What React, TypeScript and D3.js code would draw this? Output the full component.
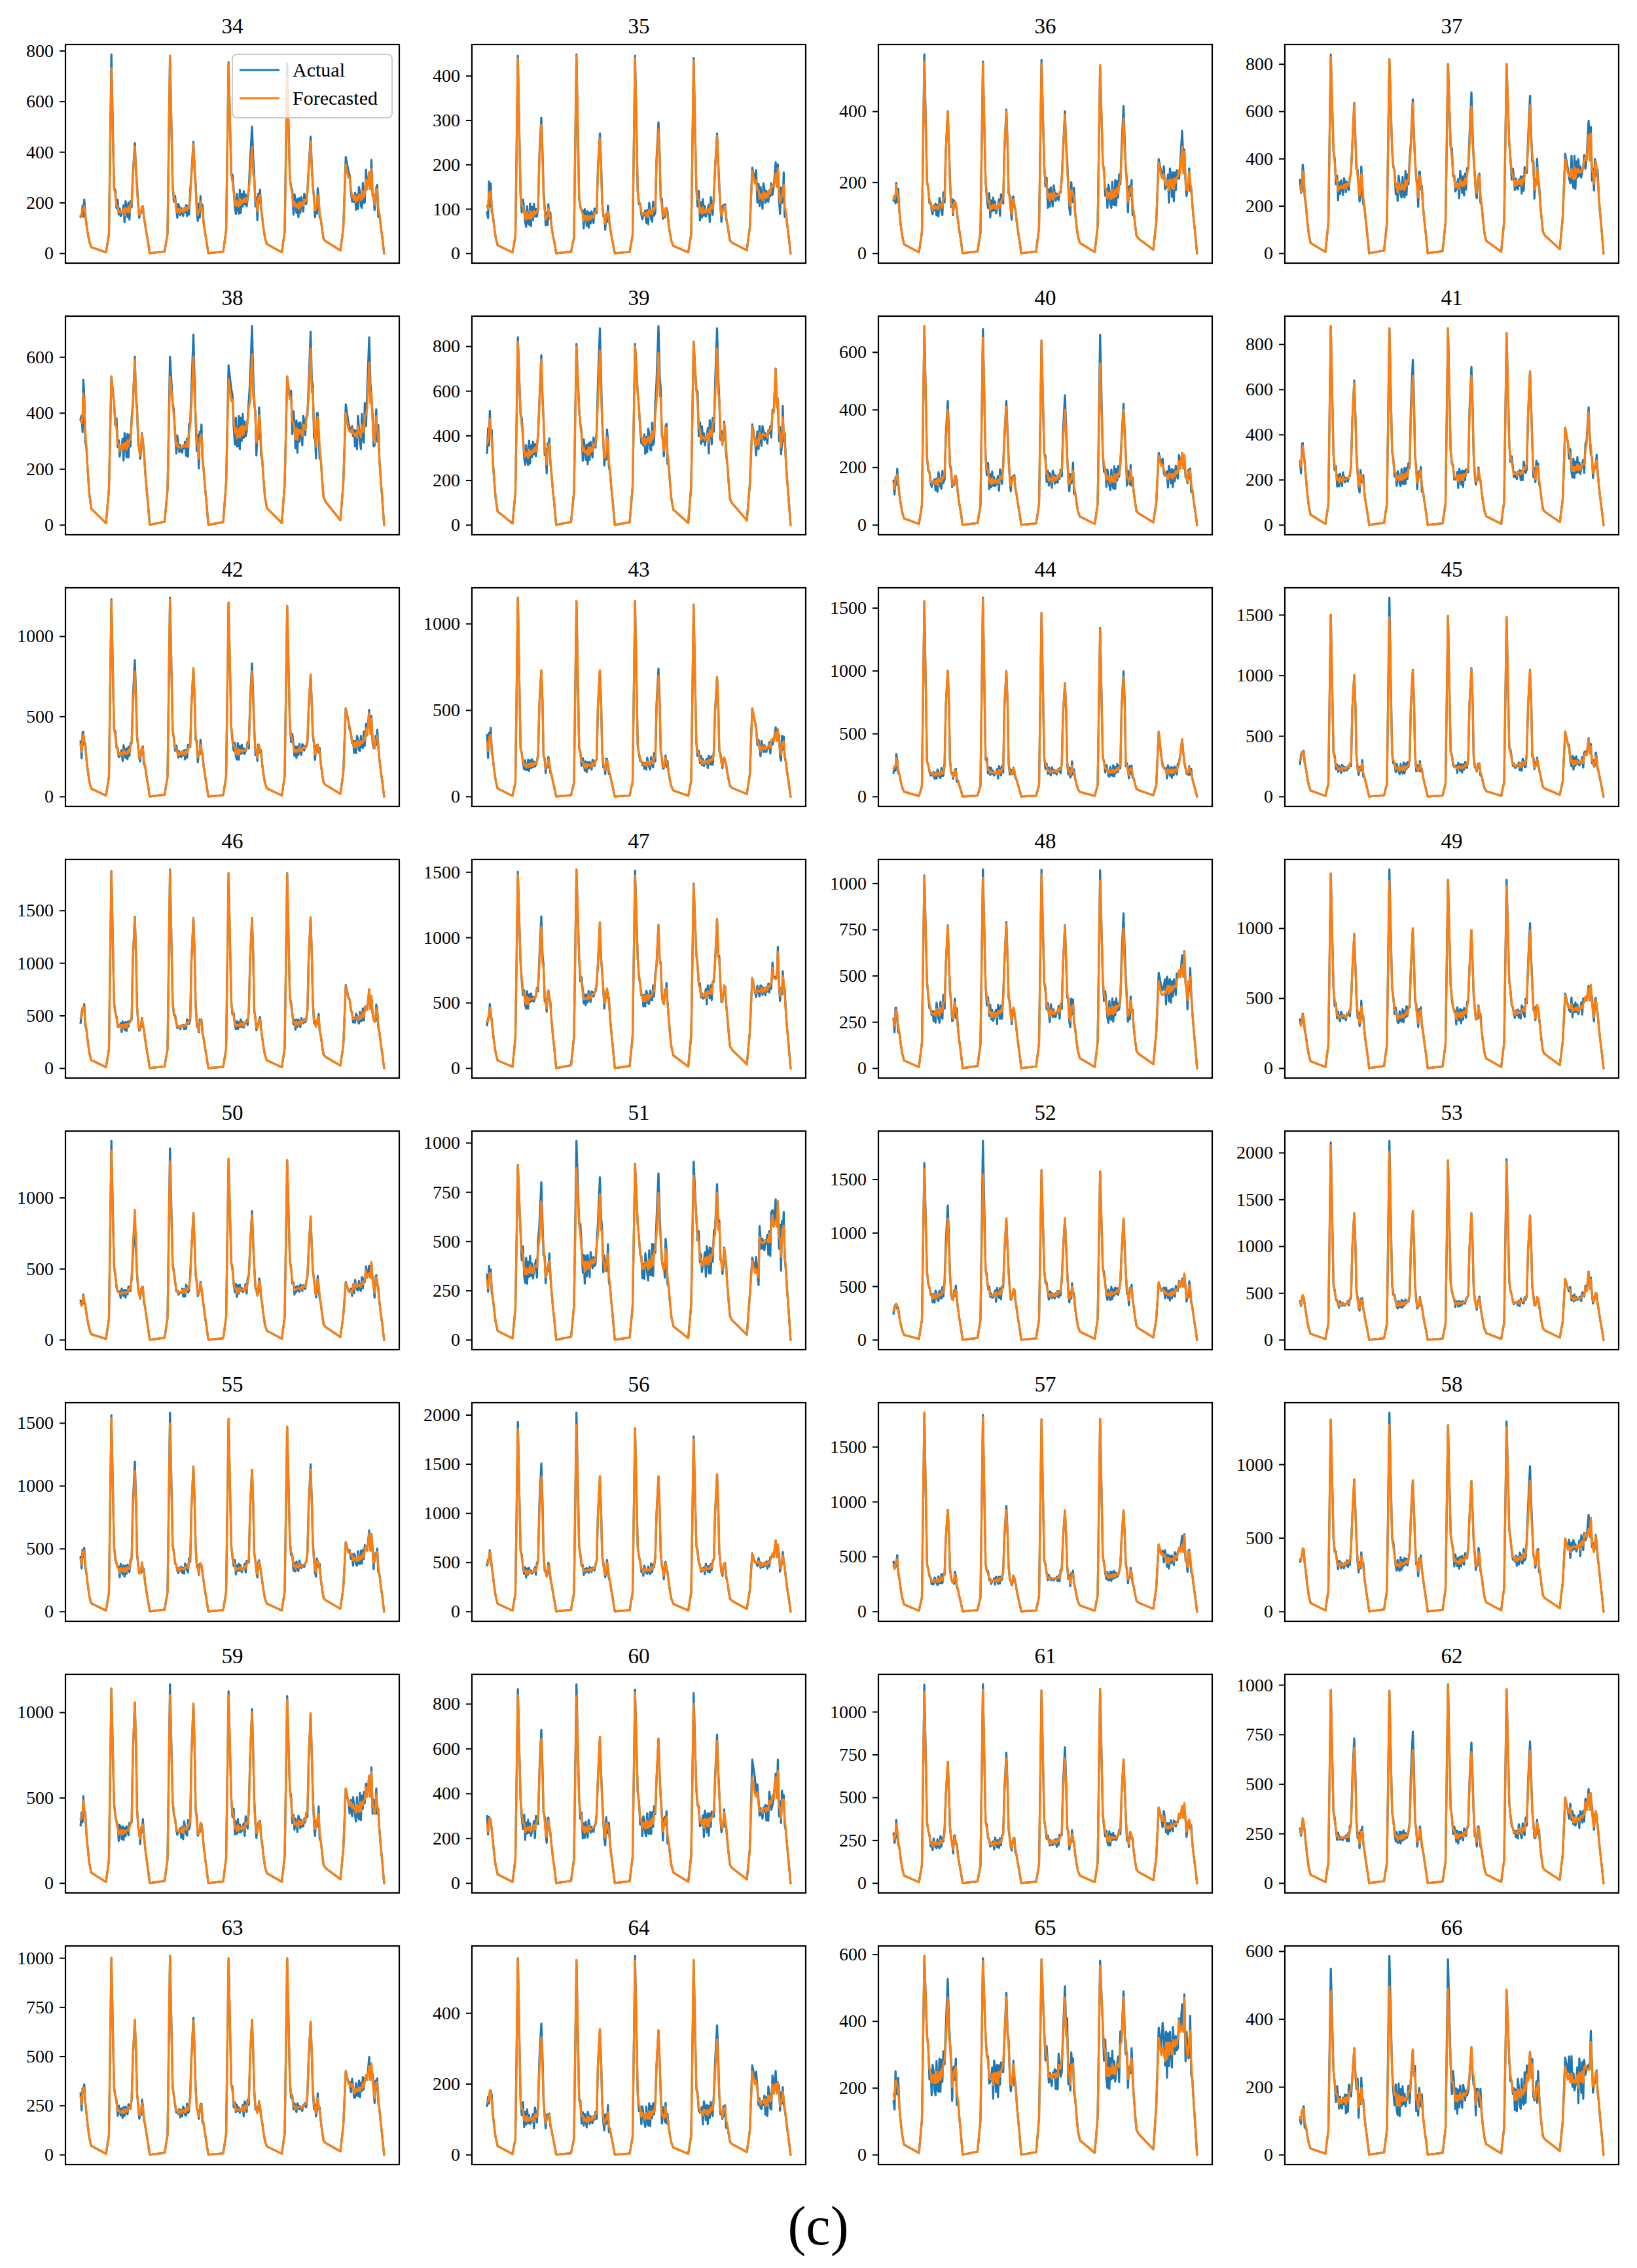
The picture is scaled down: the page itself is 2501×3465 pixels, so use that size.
import { useEffect, useRef } from 'react';
import * as d3 from 'd3';

// panels, in reading order
const PANEL_IDS = [34, 35, 36, 37, 38, 39, 40, 41, 42, 43, 44, 45, 46, 47, 48, 49,
  50, 51, 52, 53, 55, 56, 57, 58, 59, 60, 61, 62, 63, 64, 65, 66];
const TICK_STEP = [200, 100, 200, 200, 200, 200, 200, 200, 500, 500, 500, 500, 500, 500, 250, 500,
  500, 250, 500, 500, 500, 500, 500, 500, 500, 200, 250, 250, 250, 200, 200, 200];

// morning peaks per day (actual / forecasted)
const P1_ACTUAL = [
  [785, 780, 755, 750, 380], [445, 448, 445, 440, 193], [560, 540, 545, 525, 265], [840, 820, 800, 800, 420],
  [530, 600, 570, 530, 430], [840, 810, 810, 820, 450], [690, 680, 640, 660, 250], [880, 870, 870, 850, 430],
  [1230, 1240, 1210, 1190, 550], [1150, 1130, 1130, 1110, 510], [1550, 1580, 1460, 1340, 515], [1500, 1640, 1490, 1480, 535],
  [1875, 1890, 1855, 1855, 791], [1500, 1520, 1510, 1410, 690], [1043, 1075, 1073, 1070, 515], [1390, 1420, 1346, 1346, 532],
  [1398, 1345, 1274, 1262, 406], [888, 1009, 893, 904, 417], [1653, 1857, 1586, 1572, 536], [2108, 2124, 1917, 1931, 650],
  [1562, 1582, 1534, 1471, 551], [1928, 2022, 1865, 1779, 590], [1810, 1790, 1750, 1754, 609], [1304, 1351, 1266, 1290, 496],
  [1139, 1164, 1123, 1094, 553], [865, 887, 863, 848, 551], [1157, 1160, 1123, 1133, 441], [974, 970, 1003, 978, 432],
  [1000, 1010, 998, 998, 425], [554, 549, 561, 549, 252], [595, 588, 585, 581, 380], [548, 586, 576, 486, 286],
];
const P1_FORECAST = [
  [730, 780, 750, 700, 350], [440, 445, 440, 435, 185], [540, 535, 535, 530, 255], [830, 820, 800, 800, 400],
  [530, 530, 520, 530, 400], [820, 800, 800, 820, 440], [690, 650, 640, 560, 240], [880, 870, 870, 850, 430],
  [1220, 1230, 1210, 1190, 550], [1150, 1130, 1130, 1110, 510], [1550, 1570, 1460, 1330, 515], [1500, 1480, 1490, 1480, 535],
  [1870, 1885, 1850, 1850, 780], [1480, 1520, 1470, 1400, 690], [1040, 1030, 1050, 1015, 470], [1390, 1338, 1346, 1300, 520],
  [1330, 1255, 1274, 1262, 400], [888, 872, 893, 833, 400], [1596, 1546, 1586, 1572, 536], [2080, 2009, 1917, 1900, 650],
  [1540, 1497, 1534, 1471, 551], [1854, 1899, 1865, 1752, 590], [1810, 1770, 1750, 1754, 609], [1304, 1270, 1266, 1249, 496],
  [1139, 1101, 1100, 1075, 553], [839, 834, 848, 800, 471], [1114, 1130, 1123, 1133, 441], [974, 970, 1003, 978, 432],
  [1000, 1010, 998, 998, 425], [554, 549, 548, 549, 234], [595, 580, 585, 566, 350], [483, 497, 490, 486, 260],
];
// afternoon peaks per day
const P2_ACTUAL = [
  [435, 440, 500, 460, 320], [305, 270, 295, 270, 205], [400, 405, 400, 415, 345], [635, 650, 680, 665, 560],
  [600, 680, 710, 690, 670], [760, 880, 890, 880, 700], [430, 430, 450, 420, 250], [640, 730, 700, 680, 520],
  [850, 800, 830, 760, 540], [730, 730, 740, 690, 400], [1000, 995, 900, 995, 455], [1000, 1045, 1060, 1045, 480],
  [1437, 1427, 1427, 1433, 750], [1160, 1115, 1095, 1140, 700], [773, 790, 773, 837, 610], [960, 1000, 987, 1036, 587],
  [815, 890, 905, 868, 520], [800, 825, 844, 790, 713], [1255, 1135, 1135, 1130, 572], [1351, 1374, 1351, 1328, 727],
  [1192, 1154, 1128, 1171, 645], [1504, 1374, 1374, 1396, 720], [925, 960, 920, 920, 688], [898, 890, 886, 988, 656],
  [1057, 1050, 1019, 994, 628], [684, 653, 645, 662, 488], [708, 760, 793, 721, 441], [730, 764, 709, 714, 474],
  [684, 696, 684, 675, 496], [370, 354, 351, 365, 236], [526, 485, 504, 489, 450], [314, 310, 317, 303, 265],
];
const P2_FORECAST = [
  [420, 430, 420, 440, 320], [290, 260, 280, 265, 180], [400, 400, 390, 380, 300], [630, 635, 620, 625, 500],
  [590, 600, 610, 630, 580], [740, 780, 770, 790, 700], [400, 410, 400, 400, 250], [630, 660, 660, 680, 500],
  [780, 800, 780, 760, 520], [730, 730, 700, 690, 370], [1000, 990, 900, 950, 455], [1000, 1040, 1050, 1040, 470],
  [1430, 1420, 1420, 1430, 750], [1080, 1110, 1090, 1140, 680], [770, 780, 770, 756, 560], [960, 1000, 985, 985, 570],
  [914, 890, 880, 868, 470], [702, 740, 746, 746, 603], [1135, 1135, 1135, 1130, 560], [1351, 1374, 1351, 1328, 720],
  [1120, 1154, 1128, 1128, 620], [1369, 1374, 1374, 1396, 720], [925, 920, 920, 920, 610], [898, 890, 886, 886, 561],
  [1057, 1050, 1000, 994, 628], [645, 653, 645, 635, 471], [708, 727, 727, 721, 450], [683, 672, 661, 667, 450],
  [684, 680, 684, 675, 450], [331, 354, 351, 325, 200], [470, 470, 470, 470, 380], [314, 310, 317, 303, 250],
];
// midday level per day
const BASE = [
  [165, 170, 200, 190, 220], [85, 80, 90, 95, 130], [130, 130, 160, 165, 195], [280, 280, 290, 300, 340],
  [280, 280, 330, 330, 330], [320, 330, 380, 390, 400], [150, 150, 160, 160, 170], [200, 210, 210, 230, 250],
  [270, 270, 280, 290, 330], [180, 180, 190, 200, 280], [180, 190, 200, 200, 200], [230, 230, 240, 260, 280],
  [400, 400, 410, 430, 480], [520, 540, 540, 560, 600], [300, 290, 300, 310, 430], [370, 370, 380, 400, 420],
  [330, 340, 350, 360, 380], [350, 380, 380, 400, 500], [410, 420, 420, 430, 430], [380, 380, 390, 400, 440],
  [330, 340, 340, 360, 420], [400, 420, 420, 430, 480], [280, 280, 300, 320, 470], [320, 320, 340, 360, 440],
  [300, 310, 320, 350, 440], [240, 240, 260, 270, 330], [230, 230, 240, 260, 330], [230, 230, 240, 260, 320],
  [220, 220, 230, 240, 330], [100, 100, 110, 120, 150], [230, 230, 240, 250, 320], [160, 160, 170, 180, 220],
];
// level of the evening tail the series starts in
const START_BASE = [160, 120, 165, 290, 390, 400, 150, 300, 330, 310, 250, 330, 520, 390, 270, 330,
  260, 300, 300, 420, 430, 520, 420, 380, 410, 260, 290, 280, 300, 160, 200, 120];
// how much the actual series scatters round its midday level
const NOISE = [0.25, 0.3, 0.25, 0.2, 0.2, 0.18, 0.25, 0.2, 0.18, 0.2, 0.25, 0.2, 0.12, 0.12, 0.2, 0.15,
  0.12, 0.22, 0.15, 0.1, 0.15, 0.12, 0.15, 0.15, 0.18, 0.22, 0.15, 0.15, 0.15, 0.3, 0.25, 0.3];

// shape of one day, hours relative to the morning peak
const SHAPE_T = [-2.2, -1.0, 0, 1.1, 1.6, 2.1, 2.6, 3.0, 3.4, 3.8, 4.2, 4.6, 5.0, 5.4, 5.8, 6.2, 6.6, 7.0,
  7.4, 7.8, 8.3, 8.8, 9.6, 10.1, 10.5, 11.0, 11.4, 11.8, 12.2, 12.5, 12.9, 13.3, 13.8, 14.3, 14.9, 15.7];
const SHAPE_KIND = ['N', 'B', 'P1', 'B', 'B', 'B', 'B', 'B', 'B', 'B', 'B', 'B', 'B', 'B', 'B', 'B', 'B', 'B',
  'B', 'B', 'B', 'P2', 'P2', 'P2', 'B', 'B', 'B', 'B', 'B', 'B', 'B', 'B', 'B', 'B', 'B', 'E'];
const SHAPE_K = [1, 0.45, 1, 1.55, 1.35, 1.18, 1.05, 1.0, 0.97, 1.01, 0.98, 1.0, 1.02, 0.99, 1.02, 1.0, 1.04, 1.06,
  1.05, 1.12, 1.25, 0.72, 1, 0.75, 1.45, 1.1, 0.95, 0.9, 1.05, 1.15, 1.1, 0.9, 0.7, 0.5, 0.3, 1];
const WIGGLE = [0.3, -0.9, 0.5, -0.4, 0.8, -1.0, 0.2, -0.6, 0.9, -0.3, -0.8, 0.4, -0.5, 1.0, -0.7, 0.1,
  -0.9, 0.6, -0.2, 0.7, -1.0, 0.3, -0.4, 0.5, -0.8, 0.9, -0.6, 0.2, -0.3, 0.6, -0.9, 0.4, -0.1, 0.8,
  -0.5, -0.7, 0.3, -0.2, 0.7, -0.6, 0.1];
// night line: level at the evening end, level at the next morning start (fractions of the midday level)
const GAP_START = [0.15, 0, 0, 0.18, 0.25];
const GAP_END = [0.02, 0.04, 0.03, 0.02, 0.05];

const LEGEND = ['Actual', 'Forecasted'];
const COLORS = ['#1f77b4', '#ff7f0e'];
const FONT = '"Liberation Serif", "DejaVu Serif", serif';

type Pt = [number, number];

function buildSeries(p: number, actual: boolean): Pt[] {
  const pts: Pt[] = [];
  const amp = NOISE[p] * (actual ? 1 : 0.3);
  const wig = (i: number, d: number) => WIGGLE[(i * 3 + d * 7 + p * 11) % WIGGLE.length];
  const b0 = START_BASE[p];
  SHAPE_T.forEach((t, i) => {
    if (t < 11.4) return;
    if (SHAPE_KIND[i] === 'B') pts.push([t, b0 * (SHAPE_K[i] + (t <= 13.3 ? amp * wig(i, 0) : 0))]);
    if (SHAPE_KIND[i] === 'E') pts.push([t, GAP_START[0] * b0]);
  });
  for (let d = 1; d <= 5; d++) {
    const B = BASE[p][d - 1];
    const P1 = (actual ? P1_ACTUAL : P1_FORECAST)[p][d - 1];
    const P2 = (actual ? P2_ACTUAL : P2_FORECAST)[p][d - 1];
    SHAPE_T.forEach((t, i) => {
      const k = SHAPE_K[i];
      let y = 0;
      switch (SHAPE_KIND[i]) {
        case 'N': y = GAP_END[d - 1] * B; break;
        case 'P1': y = P1; break;
        case 'P2': y = k === 1 ? P2 : Math.max(k * P2, 1.15 * B); break;
        case 'E': y = d < 5 ? GAP_START[d] * B : 0; break;
        default:
          y = B * k;
          if (t > 0 && t < 3) y = Math.min(y, 0.85 * P1);
          if (t >= 1.6 && t <= 13.3) y += amp * B * wig(i, d);
      }
      pts.push([24 * d + t, Math.max(0, y)]);
    });
  }
  return pts;
}

const COL_X = 100, COL_STEP = 621, AX_W = 510;
const ROW_Y = 68, ROW_STEP = 415, AX_H = 334;

export default function App() {
  const svgRef = useRef<SVGSVGElement>(null);

  useEffect(() => {
    document.body.style.margin = '0';
    const svg = d3.select(svgRef.current);
    svg.selectAll('*').remove();
    svg.append('rect').attr('width', 2501).attr('height', 3465).attr('fill', '#fff');

    PANEL_IDS.forEach((id, p) => {
      const col = p % 4, row = Math.floor(p / 4);
      const g = svg.append('g')
        .attr('transform', `translate(${COL_X + col * COL_STEP},${ROW_Y + row * ROW_STEP})`);

      const actual = buildSeries(p, true);
      const fcst = buildSeries(p, false);
      const all = actual.concat(fcst);
      const [x0, x1] = d3.extent(all, d => d[0]) as [number, number];
      const [y0, y1] = d3.extent(all, d => d[1]) as [number, number];
      const xs = d3.scaleLinear().domain([x0 - 0.05 * (x1 - x0), x1 + 0.05 * (x1 - x0)]).range([0, AX_W]);
      const ys = d3.scaleLinear().domain([y0 - 0.05 * (y1 - y0), y1 + 0.05 * (y1 - y0)]).range([AX_H, 0]);

      const line = d3.line<Pt>().x(d => xs(d[0])).y(d => ys(d[1]));
      [actual, fcst].forEach((s, i) => {
        g.append('path').datum(s).attr('d', line)
          .attr('fill', 'none').attr('stroke', COLORS[i]).attr('stroke-width', 3.2)
          .attr('stroke-linejoin', 'round').attr('stroke-linecap', 'square');
      });

      // y ticks
      const ticks = d3.range(0, ys.domain()[1] + 1e-6, TICK_STEP[p]);
      const ax = g.append('g').call(
        d3.axisLeft(ys).tickValues(ticks).tickSize(9).tickPadding(9).tickFormat(d3.format('d'))
      );
      ax.select('.domain').remove();
      ax.selectAll('line').attr('stroke', '#000').attr('stroke-width', 2);
      ax.selectAll('text').attr('font-size', 28).attr('font-family', FONT).attr('fill', '#000');

      g.append('rect').attr('width', AX_W).attr('height', AX_H)
        .attr('fill', 'none').attr('stroke', '#000').attr('stroke-width', 2.2);

      g.append('text').attr('x', AX_W / 2).attr('y', -17)
        .attr('text-anchor', 'middle').attr('font-size', 33).attr('font-family', FONT)
        .text(String(id));

      if (p === 0) {
        const lg = g.append('g').attr('transform', `translate(${AX_W - 255},15)`);
        lg.append('rect').attr('width', 244).attr('height', 97).attr('rx', 7)
          .attr('fill', '#fff').attr('fill-opacity', 0.8).attr('stroke', '#cccccc').attr('stroke-width', 2);
        LEGEND.forEach((label, i) => {
          const yy = 24 + i * 43;
          lg.append('line').attr('x1', 11).attr('x2', 72).attr('y1', yy).attr('y2', yy)
            .attr('stroke', COLORS[i]).attr('stroke-width', 3.2);
          lg.append('text').attr('x', 92).attr('y', yy + 10)
            .attr('font-size', 30).attr('font-family', FONT).text(label);
        });
      }
    });

    svg.append('text').attr('x', 1250).attr('y', 3429)
      .attr('text-anchor', 'middle').attr('font-size', 84).attr('font-family', FONT)
      .text('(c)');
  }, []);

  return <svg ref={svgRef} width={2501} height={3465} style={{ display: 'block' }} />;
}
